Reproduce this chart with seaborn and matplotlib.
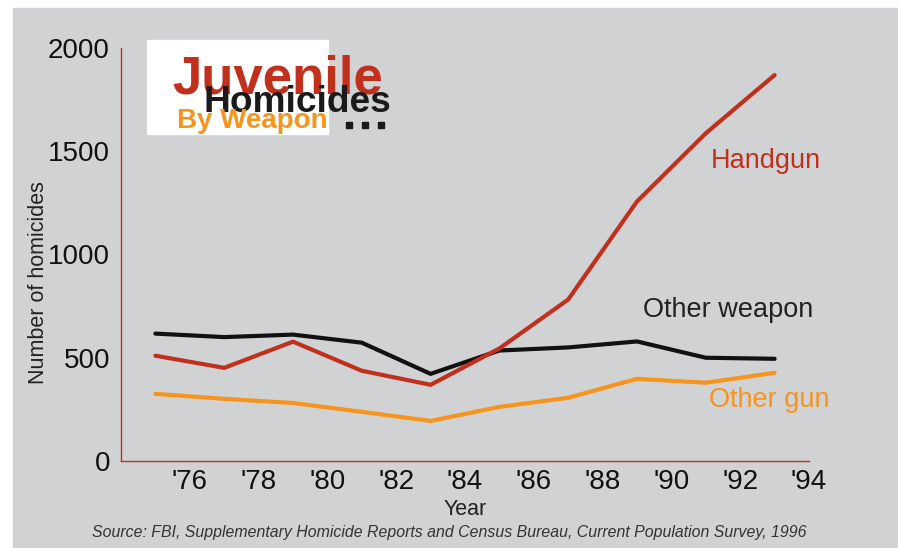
"""
Juvenile homicides by weapon, 1975-1993.
"""

import matplotlib
matplotlib.use("Agg")
import matplotlib.pyplot as plt
from matplotlib.patches import Rectangle
from matplotlib.lines import Line2D
import seaborn as sns
import pandas as pd

# Data
years = [1975, 1977, 1979, 1981, 1983, 1985, 1987, 1989, 1991, 1993]
handgun = [510, 451, 578, 437, 369, 545, 782, 1257, 1587, 1869]
other_weapon = [617, 600, 612, 573, 422, 535, 550, 579, 500, 495]
other_gun = [325, 301, 281, 238, 194, 262, 306, 398, 379, 427]

series_names = ['Handgun', 'Other weapon', 'Other gun']
tick_years = list(range(1974, 1995, 2))
tick_labels = [''] + ["'%02d" % (y % 100) for y in tick_years[1:]]

RED = '#c1301c'
BLACK = '#111111'
ORANGE = '#f7941d'
GRAY = '#d1d2d4'

sns.set_theme(style='white')
plt.rcParams['font.family'] = ['Liberation Sans', 'DejaVu Sans']

df = pd.DataFrame({
    'year': years * 3,
    'count': handgun + other_weapon + other_gun,
    'weapon': [n for n in series_names for _ in years],
})

fig = plt.figure(figsize=(8.98, 5.48), dpi=100)
fig.patch.set_facecolor('white')
# gray panel, leaving a thin white strip on top and left
fig.add_artist(Rectangle((13 / 898, 0), 1 - 13 / 898, 1 - 8 / 548,
                         transform=fig.transFigure, color=GRAY, zorder=0))

ax = fig.add_axes([121 / 898, 1 - 461 / 548, 688 / 898, 413 / 548])
ax.set_facecolor('none')

sns.lineplot(
    data=df, x='year', y='count', hue='weapon',
    palette={'Handgun': RED, 'Other weapon': BLACK, 'Other gun': ORANGE},
    hue_order=['Other gun', 'Other weapon', 'Handgun'],
    linewidth=3, legend=False, ax=ax
)

ax.set_xlim(1974, 1994)
ax.set_ylim(0, 2000)
ax.set_xticks(tick_years)
ax.set_xticklabels(tick_labels)
ax.set_yticks([0, 500, 1000, 1500, 2000])
ax.tick_params(axis='x', direction='in', length=9, width=1.6, color='black',
               labelsize=20, pad=6, labelcolor='#111111')
ax.tick_params(axis='y', length=0, labelsize=20, pad=8, labelcolor='#111111')

for side in ['top', 'right']:
    ax.spines[side].set_visible(False)
for side in ['left', 'bottom']:
    ax.spines[side].set_color(RED)
    ax.spines[side].set_linewidth(1.0)

ax.set_xlabel('Year', fontsize=15.5, color='#222222')
ax.xaxis.set_label_coords(0.5, -0.092)
ax.set_ylabel('Number of homicides', fontsize=15.5, color='#222222')
ax.yaxis.set_label_coords(-0.104, 0.431)

# direct series labels
ax.text(1991.15, 1451, 'Handgun', color=RED, fontsize=19.5, va='center')
ax.text(1989.17, 733, 'Other weapon', color='#222222', fontsize=19.5, va='center')
ax.text(1991.1, 296, 'Other gun', color=ORANGE, fontsize=19.5, va='center')

# title block
fig.add_artist(Rectangle((147 / 898, 1 - 134 / 548), 181 / 898, 94 / 548,
                         transform=fig.transFigure, color='white', zorder=1))
fig.text(172 / 898, 1 - 93 / 548, 'Juvenile', color=RED, fontsize=38,
         fontweight='bold', va='baseline', zorder=3)
fig.text(204 / 898, 1 - 112 / 548, 'Homicides', color='#1a1a1a', fontsize=26.7,
         fontweight='bold', va='baseline', zorder=4)
fig.text(177 / 898, 1 - 128 / 548, 'By Weapon', color=ORANGE, fontsize=20,
         fontweight='bold', va='baseline', zorder=4)
fig.add_artist(Line2D([349 / 898, 365 / 898, 381 / 898], [1 - 125 / 548] * 3,
                      transform=fig.transFigure, linestyle='none', marker='s',
                      markersize=5, color='#1a1a1a', zorder=4))

fig.text(449 / 898, 1 - 532 / 548,
         'Source: FBI, Supplementary Homicide Reports and Census Bureau, '
         'Current Population Survey, 1996',
         ha='center', va='center', fontsize=11.4, style='italic', color='#333333')

fig.savefig('out.png', dpi=100, facecolor=fig.get_facecolor())
plt.close(fig)
